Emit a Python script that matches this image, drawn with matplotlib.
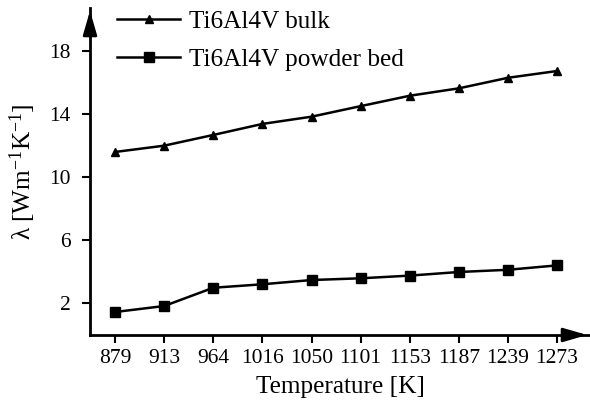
import matplotlib
matplotlib.use('Agg')
import matplotlib.pyplot as plt

temps = ['879', '913', '964', '1016', '1050', '1101', '1153', '1187', '1239', '1273']
bulk = [11.59, 11.99, 12.67, 13.37, 13.83, 14.50, 15.16, 15.63, 16.30, 16.73]
powder = [1.43, 1.81, 2.97, 3.19, 3.46, 3.57, 3.74, 3.97, 4.11, 4.39]
yticks = [2, 6, 10, 14, 18]

plt.rcParams['font.family'] = ['Liberation Serif', 'DejaVu Serif']
plt.rcParams['mathtext.fontset'] = 'custom'
plt.rcParams['mathtext.rm'] = 'Liberation Serif'
plt.rcParams['mathtext.it'] = 'Liberation Serif:italic'

fig = plt.figure(figsize=(5.9, 4.01), dpi=100)
ax = fig.add_axes([90 / 590, 66 / 401, 500 / 590, 327 / 401])

x = list(range(len(temps)))
ax.plot(x, bulk, color='black', lw=1.8, marker='^', ms=6, label='Ti6Al4V bulk')
ax.plot(x, powder, color='black', lw=1.8, marker='s', ms=7, label='Ti6Al4V powder bed')

ax.set_xlim(-0.51, 9.67)
ax.set_ylim(-0.03, 20.73)
ax.set_xticks(x)
ax.set_xticklabels(temps)
ax.set_yticks(yticks)
ax.tick_params(axis='both', direction='out', length=6, width=1.5, labelsize=15.5)
ax.tick_params(axis='y', pad=8)
ax.tick_params(axis='x', pad=4)

for s in ['top', 'right']:
    ax.spines[s].set_visible(False)
for s in ['left', 'bottom']:
    ax.spines[s].set_linewidth(2)

# arrow heads on the axes
head = '-|>,head_length=1.45,head_width=0.42'
ax.annotate('', xy=(1.0, 0), xycoords='axes fraction', xytext=(0.94, 0),
            arrowprops=dict(arrowstyle=head, color='black', lw=2),
            annotation_clip=False)
ax.annotate('', xy=(0, 1.0), xycoords='axes fraction', xytext=(0, 0.91),
            arrowprops=dict(arrowstyle=head, color='black', lw=2),
            annotation_clip=False)

ax.set_xlabel('Temperature [K]', fontsize=18.2, labelpad=6)
ax.set_ylabel('λ [Wm$^{-1}$K$^{-1}$]', fontsize=18.2, labelpad=8)

ax.legend(loc='upper left', bbox_to_anchor=(0.034, 1.024), frameon=False, fontsize=18.2,
          handlelength=2.5, handletextpad=0.35, labelspacing=0.6, borderaxespad=0)

fig.savefig('out.png', dpi=100)
